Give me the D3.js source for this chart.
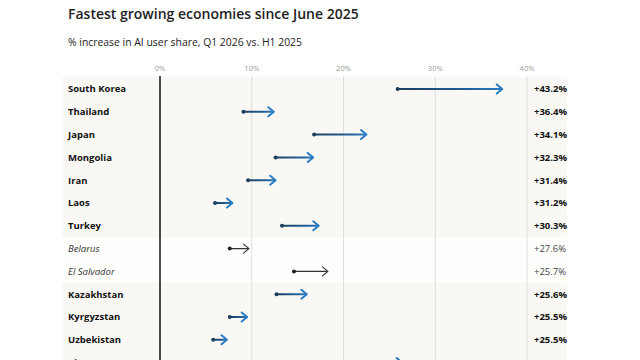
<!DOCTYPE html>
<html>
<head>
<meta charset="utf-8">
<script src="https://cdn.jsdelivr.net/npm/d3@7"></script>
<style>
  html, body { margin: 0; padding: 0; background: #fff; }
  svg { display: block; font-family: "Open Sans", "Noto Sans", sans-serif; }
</style>
</head>
<body>
<div id="chart"></div>
<script>
// values
var countries = ['South Korea', 'Thailand', 'Japan', 'Mongolia', 'Iran', 'Laos', 'Turkey',
                 'Belarus', 'El Salvador', 'Kazakhstan', 'Kyrgyzstan', 'Uzbekistan', 'Vietnam'];
var shareH1  = [25.9, 9.1, 16.8, 12.6, 9.6, 6.0, 13.3, 7.6, 14.6, 12.7, 7.6, 5.8, 20.6];
var shareQ1  = [37.3, 12.4, 22.5, 16.7, 12.6, 7.9, 17.3, 9.7, 18.3, 16.0, 9.5, 7.3, 26.4];
var growth   = [43.2, 36.4, 34.1, 32.3, 31.4, 31.2, 30.3, 27.6, 25.7, 25.6, 25.5, 25.5, 25.4];
var muted    = ['Belarus', 'El Salvador'];
var ticks    = [0, 10, 20, 30, 40];

var W = 640, H = 360;

var rows = countries.map(function(c, i) {
  return { name: c, a: shareH1[i], b: shareQ1[i], g: growth[i], muted: muted.indexOf(c) >= 0 };
});

var svg = d3.select('#chart').append('svg').attr('width', W).attr('height', H);

var x = d3.scaleLinear().domain([0, 40]).range([160, 527]);
var y = d3.scaleBand().domain(countries).range([77.6, 77.6 + 22.8 * countries.length]);

// gradient for the blue arrows
var grad = svg.append('defs').append('linearGradient').attr('id', 'blue');
grad.append('stop').attr('offset', '0%').attr('stop-color', '#1c3e5e');
grad.append('stop').attr('offset', '70%').attr('stop-color', '#22609a');
grad.append('stop').attr('offset', '100%').attr('stop-color', '#2a7cc2');

// panel background
svg.append('rect')
  .attr('x', 62).attr('y', 77).attr('width', 505).attr('height', H - 77)
  .attr('fill', '#f9f8f4');

svg.selectAll('rect.row')
  .data(rows.filter(function(d) { return d.muted; }))
  .enter().append('rect').classed('row', true)
  .attr('x', 62).attr('width', 505)
  .attr('y', function(d) { return y(d.name); })
  .attr('height', y.bandwidth())
  .attr('fill', '#fefefd');

// title
svg.append('text').attr('x', 68).attr('y', 19)
  .attr('font-size', 14).attr('font-weight', 600).attr('fill', '#222')
  .text('Fastest growing economies since June 2025');
svg.append('text').attr('x', 68).attr('y', 46)
  .attr('font-size', 10.4).attr('fill', '#222')
  .text('% increase in AI user share, Q1 2026 vs. H1 2025');

// grid
svg.selectAll('line.grid')
  .data(ticks)
  .enter().append('line').classed('grid', true)
  .attr('x1', function(d) { return x(d); }).attr('x2', function(d) { return x(d); })
  .attr('y1', 76).attr('y2', H)
  .attr('stroke', function(d) { return d === 0 ? '#111' : '#dedede'; })
  .attr('stroke-width', function(d) { return d === 0 ? 1.5 : 1; });

svg.selectAll('text.tick')
  .data(ticks)
  .enter().append('text').classed('tick', true)
  .attr('x', function(d) { return x(d); }).attr('y', 71)
  .attr('text-anchor', 'middle').attr('font-size', 7.5).attr('fill', '#9a9a9a')
  .text(function(d) { return d + '%'; });

// country labels
svg.selectAll('text.name')
  .data(rows)
  .enter().append('text').classed('name', true)
  .attr('x', 68)
  .attr('y', function(d) { return y(d.name) + y.bandwidth() / 2 + 3.3; })
  .attr('font-size', 9.5)
  .attr('font-weight', function(d) { return d.muted ? 400 : 700; })
  .attr('font-style', function(d) { return d.muted ? 'italic' : 'normal'; })
  .attr('fill', function(d) { return d.muted ? '#333' : '#111'; })
  .text(function(d) { return d.name; });

// arrows
var arrows = svg.selectAll('g.arrow')
  .data(rows)
  .enter().append('g').classed('arrow', true)
  .attr('transform', function(d) { return 'translate(0,' + (y(d.name) + y.bandwidth() / 2) + ')'; });

arrows.append('line')
  .attr('x1', function(d) { return x(d.a); })
  .attr('x2', function(d) { return x(d.b) - 1; })
  .attr('y1', 0).attr('y2', 0.01)
  .attr('stroke', function(d) { return d.muted ? '#333' : 'url(#blue)'; })
  .attr('stroke-width', function(d) { return d.muted ? 1.2 : 2; });

arrows.append('path')
  .attr('d', function(d) {
    var t = x(d.b);
    return 'M' + (t - 5.5) + ',-4.5L' + t + ',0L' + (t - 5.5) + ',4.5';
  })
  .attr('fill', 'none')
  .attr('stroke', function(d) { return d.muted ? '#333' : '#2a7cc2'; })
  .attr('stroke-width', function(d) { return d.muted ? 1.2 : 2; })
  .attr('stroke-linecap', 'round').attr('stroke-linejoin', 'round');

arrows.append('circle')
  .attr('cx', function(d) { return x(d.a); })
  .attr('r', 2)
  .attr('fill', function(d) { return d.muted ? '#222' : '#1c3e5e'; });

// growth values
svg.selectAll('text.val')
  .data(rows)
  .enter().append('text').classed('val', true)
  .attr('x', 534)
  .attr('y', function(d) { return y(d.name) + y.bandwidth() / 2 + 3.3; })
  .attr('font-size', 9.5)
  .attr('font-weight', function(d) { return d.muted ? 400 : 700; })
  .attr('fill', function(d) { return d.muted ? '#444' : '#111'; })
  .text(function(d) { return '+' + d.g.toFixed(1) + '%'; });
</script>
</body>
</html>
